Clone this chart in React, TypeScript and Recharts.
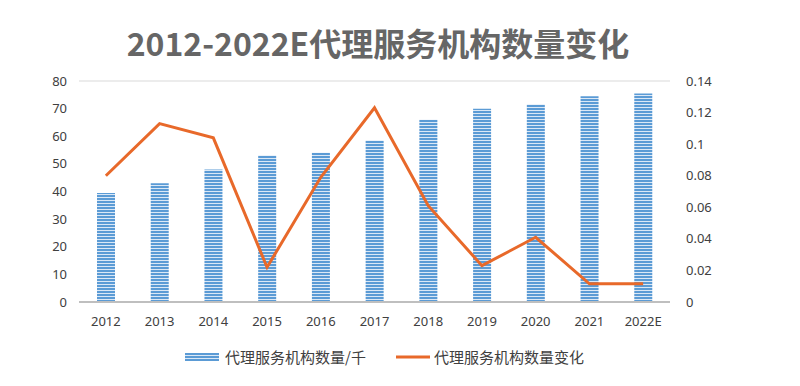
import { ComposedChart, Bar, Line, XAxis, YAxis, CartesianGrid, Legend } from 'recharts';

// Data
const years = ['2012', '2013', '2014', '2015', '2016', '2017', '2018', '2019', '2020', '2021', '2022E'];
const agencyCount = [39.5, 43, 48, 53, 54, 58.5, 66, 70, 71.5, 74.5, 75.5];
const agencyChange = [0.08, 0.113, 0.104, 0.022, 0.079, 0.123, 0.061, 0.023, 0.041, 0.0115, 0.0115];
const leftTicks = [0, 10, 20, 30, 40, 50, 60, 70, 80];
const rightTicks = [0, 0.02, 0.04, 0.06, 0.08, 0.1, 0.12, 0.14];

const barName = '代理服务机构数量/千';
const lineName = '代理服务机构数量变化';

const data = years.map((year, i) => ({
  year,
  count: agencyCount[i],
  change: agencyChange[i],
}));

const tickStyle = { fill: '#404040', fontSize: 13, fontFamily: 'Noto Sans, sans-serif' };

// custom legend so the striped swatch shows
const LegendContent = () => (
  <div
    style={{
      display: 'flex',
      justifyContent: 'center',
      alignItems: 'center',
      paddingTop: 14,
      paddingLeft: 20,
      fontFamily: '"Noto Sans CJK SC", sans-serif',
      fontSize: 15,
      color: '#404040',
    }}
  >
    <svg width={34} height={8} style={{ marginRight: 6 }}>
      <rect x={0} y={0} width={34} height={8} fill="url(#stripes)" />
    </svg>
    <span style={{ marginRight: 30 }}>{barName}</span>
    <svg width={34} height={8} style={{ marginRight: 4 }}>
      <line x1={0} y1={4} x2={34} y2={4} stroke="#e8692a" strokeWidth={3} />
    </svg>
    <span>{lineName}</span>
  </div>
);

export default function App() {
  return (
    <div style={{ position: 'absolute', left: 0, top: 0, width: 800, height: 386, background: '#fff' }}>
      <div
        style={{
          position: 'absolute',
          left: 0,
          top: 20,
          width: 756,
          textAlign: 'center',
          fontFamily: '"Noto Sans CJK SC", sans-serif',
          fontWeight: 700,
          fontSize: 32,
          lineHeight: '44px',
          color: '#666666',
        }}
      >
        2012-2022E代理服务机构数量变化
      </div>
      <ComposedChart
        width={800}
        height={386}
        data={data}
        margin={{ top: 81, right: 70, left: 19, bottom: 10 }}
      >
        <defs>
          <pattern id="stripes" patternUnits="userSpaceOnUse" width={4} height={3}>
            <rect x={0} y={0} width={4} height={3} fill="#dbe8f6" />
            <rect x={0} y={0} width={4} height={2} fill="#5b9bd5" />
          </pattern>
        </defs>
        <CartesianGrid vertical={false} stroke="#d9d9d9" />
        <XAxis
          dataKey="year"
          tick={tickStyle}
          tickLine={false}
          axisLine={{ stroke: '#bfbfbf', strokeWidth: 2 }}
          tickMargin={9}
          height={30}
          interval={0}
        />
        <YAxis
          yAxisId="left"
          domain={[0, 80]}
          ticks={leftTicks}
          tick={tickStyle}
          tickLine={false}
          axisLine={false}
          tickMargin={6}
          width={60}
        />
        <YAxis
          yAxisId="right"
          orientation="right"
          domain={[0, 0.14]}
          ticks={rightTicks}
          tick={tickStyle}
          tickLine={false}
          axisLine={false}
          tickMargin={10}
          width={60}
        />
        <Legend verticalAlign="bottom" height={44} content={<LegendContent />} />
        <Bar
          yAxisId="left"
          dataKey="count"
          name={barName}
          fill="url(#stripes)"
          barSize={18}
          isAnimationActive={false}
        />
        <Line
          yAxisId="right"
          dataKey="change"
          name={lineName}
          stroke="#e8692a"
          strokeWidth={3}
          dot={false}
          type="linear"
          isAnimationActive={false}
        />
      </ComposedChart>
    </div>
  );
}
